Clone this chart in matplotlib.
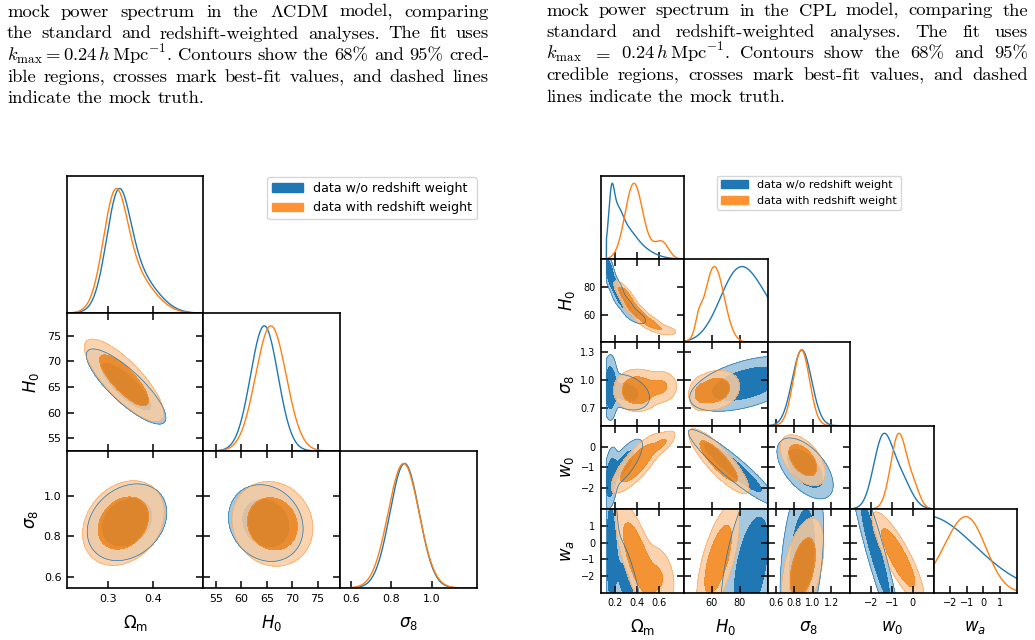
import numpy as np
import matplotlib.pyplot as plt
from matplotlib.patches import Patch

W, H = 1035, 640
BLUE = '#1f77b4'
ORANGE = '#ff7f0e'
BLUE_LIGHT = '#a5c8e1'
BLUE_DARK = '#1f77b4'
ORANGE_LIGHT = (251 / 255, 204 / 255, 160 / 255, 0.85)
ORANGE_DARK = (242 / 255, 135 / 255, 30 / 255, 0.9)

legend_labels = ['data w/o redshift weight', 'data with redshift weight']

# ---------------- caption text ----------------
left_lines = [
    r'mock power spectrum in the $\Lambda$CDM model, comparing',
    r'the standard and redshift-weighted analyses. The fit uses',
    r'$k_{\mathrm{max}}=0.24\,h\,\mathrm{Mpc}^{-1}$. Contours show the 68% and 95% cred-',
    r'ible regions, crosses mark best-fit values, and dashed lines',
    r'indicate the mock truth.',
]
right_lines = [
    r'mock power spectrum in the CPL model, comparing the',
    r'standard and redshift-weighted analyses. The fit uses',
    r'$k_{\mathrm{max}}$ $=$ $0.24\,h\,\mathrm{Mpc}^{-1}$. Contours show the 68% and 95%',
    r'credible regions, crosses mark best-fit values, and dashed',
    r'lines indicate the mock truth.',
]

# ---------------- LCDM ----------------
lcdm_labels = [r'$\Omega_{\mathrm{m}}$', r'$H_0$', r'$\sigma_8$']
lcdm_lims = [(0.209, 0.511), (52.5, 79.4), (0.547, 1.22)]
lcdm_ticks = [[0.3, 0.4], [55, 60, 65, 70, 75], [0.6, 0.8, 1.0]]
# 1D: (height, mean, sd)
lcdm_blue_1d = [
    [(0.85, 0.322, 0.026), (0.35, 0.36, 0.045)],
    [(1.0, 64.5, 2.7)],
    [(1.0, 0.865, 0.072)],
]
lcdm_orange_1d = [
    [(0.85, 0.315, 0.026), (0.35, 0.353, 0.045)],
    [(1.0, 65.8, 3.0)],
    [(1.0, 0.86, 0.076)],
]
# 2D: (row, col) -> (amp, mean_x, mean_y, sd_x, sd_y, rho)
lcdm_blue_2d = {
    (1, 0): [(1.0, 0.340, 65.1, 0.036, 3.0, -0.83)],
    (2, 0): [(1.0, 0.342, 0.87, 0.036, 0.077, 0.25)],
    (2, 1): [(1.0, 64.8, 0.866, 3.0, 0.077, -0.15)],
}
lcdm_orange_2d = {
    (1, 0): [(1.0, 0.3355, 66.3, 0.036, 3.3, -0.8)],
    (2, 0): [(1.0, 0.334, 0.866, 0.037, 0.085, 0.25)],
    (2, 1): [(1.0, 66.1, 0.862, 3.25, 0.085, -0.1)],
}

# ---------------- CPL ----------------
cpl_labels = [r'$\Omega_{\mathrm{m}}$', r'$H_0$', r'$\sigma_8$', r'$w_0$', r'$w_a$']
cpl_lims = [(0.07, 0.83), (40.3, 100), (0.51, 1.405), (-3.0, 1.0), (-2.98, 2.0)]
cpl_xticks = [[0.2, 0.4, 0.6], [60, 80], [0.6, 0.8, 1.0, 1.2], [-2, -1, 0], [-2, -1, 0, 1]]
cpl_yticks = [[], [60, 80], [0.7, 1.0, 1.3], [-2, -1, 0], [-2, -1, 0, 1]]
cpl_blue_lower = {0: 0.12}
cpl_blue_1d = [
    [(0.5, 0.165, 0.025), (0.35, 0.21, 0.05), (0.25, 0.28, 0.09), (0.15, 0.38, 0.14)],
    [(1.0, 79, 13.5), (0.35, 100, 12)],
    [(1.0, 0.88, 0.105)],
    [(1.0, -1.45, 0.45), (0.45, -0.6, 0.5)],
    [(1.0, -3.5, 3.0)],
]
cpl_orange_1d = [
    [(1.0, 0.37, 0.08), (0.12, 0.57, 0.07), (0.15, 0.64, 0.055)],
    [(1.0, 61.8, 7.0), (0.16, 50.5, 2.2)],
    [(1.0, 0.875, 0.088)],
    [(1.0, -0.68, 0.38), (0.25, 0.05, 0.3)],
    [(1.0, -0.9, 1.1), (0.25, -2.5, 1.0)],
]
cpl_blue_2d = {
    (1, 0): [(1.0, 0.14, 93, 0.03, 6, -0.7), (0.8, 0.20, 80, 0.04, 5, -0.7),
             (0.6, 0.28, 68, 0.05, 4, -0.7), (0.4, 0.38, 59, 0.055, 3, -0.6)],
    (2, 0): [(1.0, 0.155, 0.92, 0.03, 0.15, 0.0), (0.6, 0.30, 0.87, 0.1, 0.09, -0.3)],
    (2, 1): [(1.0, 85, 0.96, 18, 0.13, 0.5)],
    (3, 0): [(1.0, 0.16, -1.5, 0.03, 0.65, 0.3), (0.7, 0.28, -0.8, 0.08, 0.55, 0.75)],
    (3, 1): [(1.0, 75, -1.0, 14, 0.8, -0.93)],
    (3, 2): [(1.0, 0.915, -1.05, 0.125, 0.6, -0.55)],
    (4, 0): [(1.0, 0.16, -0.5, 0.035, 3.0, 0.0), (0.5, 0.28, -1.5, 0.08, 1.5, -0.7),
             (0.6, 0.3, -3.0, 0.08, 1.2, -0.6)],
    (4, 1): [(1.0, 88, -1.5, 12, 3.0, 0.5)],
    (4, 2): [(1.0, 0.88, -1.0, 0.115, 2.5, 0.35)],
    (4, 3): [(1.0, -1.8, -0.5, 0.6, 2.5, -0.93)],
}
cpl_orange_2d = {
    (1, 0): [(1.0, 0.30, 73, 0.05, 5, -0.8), (0.9, 0.40, 62, 0.06, 4, -0.75),
             (0.6, 0.52, 54, 0.06, 3, -0.6), (0.3, 0.65, 49, 0.06, 2, -0.4)],
    (2, 0): [(1.0, 0.40, 0.89, 0.09, 0.095, 0.0), (0.4, 0.62, 0.93, 0.07, 0.08, 0.0)],
    (2, 1): [(1.0, 62, 0.89, 7.5, 0.09, 0.2), (0.3, 51, 0.85, 3, 0.08, 0.0)],
    (3, 0): [(1.0, 0.40, -0.8, 0.1, 0.6, 0.8), (0.35, 0.63, 0.15, 0.06, 0.3, 0.7)],
    (3, 1): [(1.0, 65, -0.7, 9, 0.65, -0.85)],
    (3, 2): [(1.0, 0.89, -0.66, 0.1, 0.5, -0.5)],
    (4, 0): [(1.0, 0.40, -0.9, 0.09, 1.5, -0.7), (0.4, 0.6, -2.0, 0.08, 1.0, -0.3)],
    (4, 1): [(1.0, 64.5, -1.0, 7, 1.5, 0.65)],
    (4, 2): [(1.0, 0.89, -1.5, 0.1, 1.3, 0.45)],
    (4, 3): [(1.0, -0.7, -0.9, 0.55, 1.2, -0.85)],
}


def curve(comps, x, lower=None):
    y = sum(h * np.exp(-0.5 * ((x - m) / s) ** 2) for h, m, s in comps)
    if lower is not None:
        y = np.where(x < lower, 0.0, y)
    return y / y.max()


def surface(comps, X, Y):
    Z = np.zeros_like(X)
    for a, mx, my, sx, sy, r in comps:
        u = (X - mx) / sx
        v = (Y - my) / sy
        Z += a * np.exp(-(u * u - 2 * r * u * v + v * v) / (2 * (1 - r * r)))
    return Z


def mass_levels(Z):
    z = np.sort(Z.ravel())[::-1]
    c = np.cumsum(z)
    c /= c[-1]
    return z[np.searchsorted(c, 0.95)], z[np.searchsorted(c, 0.68)]


def filled(ax, X, Y, Z, light, dark, edge, lw, ealpha):
    l95, l68 = mass_levels(Z)
    ax.contourf(X, Y, Z, levels=[l95, l68, Z.max() * 1.01 + 1e-12], colors=[light, dark])
    ax.contour(X, Y, Z, levels=[l95], colors=[edge], linewidths=lw, alpha=ealpha)


fig = plt.figure(figsize=(W / 100, H / 100), dpi=100)


def corner(xs, ys, labels, lims, xticks, yticks, b1, o1, b2, o2, tick_fs, lab_fs,
           xlab_off, ylab_off, blue_lower=None):
    blue_lower = blue_lower or {}
    n = len(labels)
    for i in range(n):
        for j in range(i + 1):
            ax = fig.add_axes([xs[j] / W, 1 - ys[i + 1] / H,
                               (xs[j + 1] - xs[j]) / W, (ys[i + 1] - ys[i]) / H])
            for s in ax.spines.values():
                s.set_linewidth(1.2)
            if i == j:
                x = np.linspace(*lims[j], 500)
                ax.plot(x, curve(b1[j], x, blue_lower.get(j)), color=BLUE, lw=1.0)
                ax.plot(x, curve(o1[j], x), color=ORANGE, lw=1.0)
                ax.set_ylim(0, 1.1)
                ax.set_yticks([])
                ax.tick_params(direction='in', length=5, width=1.1, top=False, right=False)
            else:
                gx = np.linspace(*lims[j], 240)
                gy = np.linspace(*lims[i], 240)
                X, Y = np.meshgrid(gx, gy)
                Zb = surface(b2[(i, j)], X, Y)
                if j in blue_lower:
                    Zb[X < blue_lower[j]] = 0
                if i in blue_lower:
                    Zb[Y < blue_lower[i]] = 0
                Zo = surface(o2[(i, j)], X, Y)
                filled(ax, X, Y, Zb, BLUE_LIGHT, BLUE_DARK, BLUE, 0.5, 1.0)
                filled(ax, X, Y, Zo, ORANGE_LIGHT, ORANGE_DARK, ORANGE, 0.5, 0.5)
                ax.set_ylim(*lims[i])
                ax.set_yticks(yticks[i])
                ax.tick_params(direction='in', length=5, width=1.1, top=True, right=True)
            ax.set_xlim(*lims[j])
            ax.set_xticks(xticks[j])
            ax.tick_params(labelsize=tick_fs, pad=4)
            if i == n - 1:
                ax.set_xlabel(labels[j], fontsize=lab_fs)
                ax.xaxis.set_label_coords(0.5, xlab_off)
                ax.xaxis.label.set_va('center')
            else:
                ax.tick_params(labelbottom=False)
            if j == 0 and i > 0:
                ax.set_ylabel(labels[i], fontsize=lab_fs)
                ax.yaxis.set_label_coords(ylab_off, 0.5)
                ax.yaxis.label.set_va('center')
            else:
                ax.tick_params(labelleft=False)


corner([67, 203.3, 340, 476.7], [176, 313.3, 451, 588], lcdm_labels, lcdm_lims,
       lcdm_ticks, lcdm_ticks, lcdm_blue_1d, lcdm_orange_1d, lcdm_blue_2d, lcdm_orange_2d,
       8, 12, -0.255, -0.265)
corner([601, 684.3, 767.7, 850.3, 933.7, 1016.7], [175.7, 259, 342.3, 425.7, 509, 592.7],
       cpl_labels, cpl_lims, cpl_xticks, cpl_yticks, cpl_blue_1d, cpl_orange_1d,
       cpl_blue_2d, cpl_orange_2d, 7, 12, -0.41, -0.41, cpl_blue_lower)

handles = [Patch(color=BLUE), Patch(color='#ff9233')]
fig.legend(handles, legend_labels, loc='upper right', bbox_to_anchor=(477 / W, 1 - 177 / H),
           fontsize=9.1, handlelength=2.4, borderaxespad=0)
fig.legend(handles, legend_labels, loc='upper left', bbox_to_anchor=(716.7 / W, 1 - 175.7 / H),
           fontsize=8.0, handlelength=2.4, borderaxespad=0)

# caption blocks, justified word by word
FS = 13.4
plt.rcParams['mathtext.fontset'] = 'cm'
renderer = fig.canvas.get_renderer()


def caption(lines, x0, x1, baselines):
    for k, (line, yb) in enumerate(zip(lines, baselines)):
        words = line.split(' ')
        texts = [fig.text(0, 0, w, fontsize=FS, family=['cmr10', 'DejaVu Serif'], va='baseline')
                 for w in words]
        widths = [t.get_window_extent(renderer).width for t in texts]
        if k == len(lines) - 1:
            gap = FS * 100 / 72 * 0.33
        else:
            gap = (x1 - x0 - sum(widths)) / (len(words) - 1)
        x = x0
        for t, w in zip(texts, widths):
            t.set_position((x / W, 1 - yb / H))
            x += w + gap


caption(left_lines, 7, 489, [17, 38.5, 60, 81.5, 103])
caption(right_lines, 546, 1028, [15.5, 37, 58.5, 80, 101.5])

fig.savefig('out.png', dpi=100)
